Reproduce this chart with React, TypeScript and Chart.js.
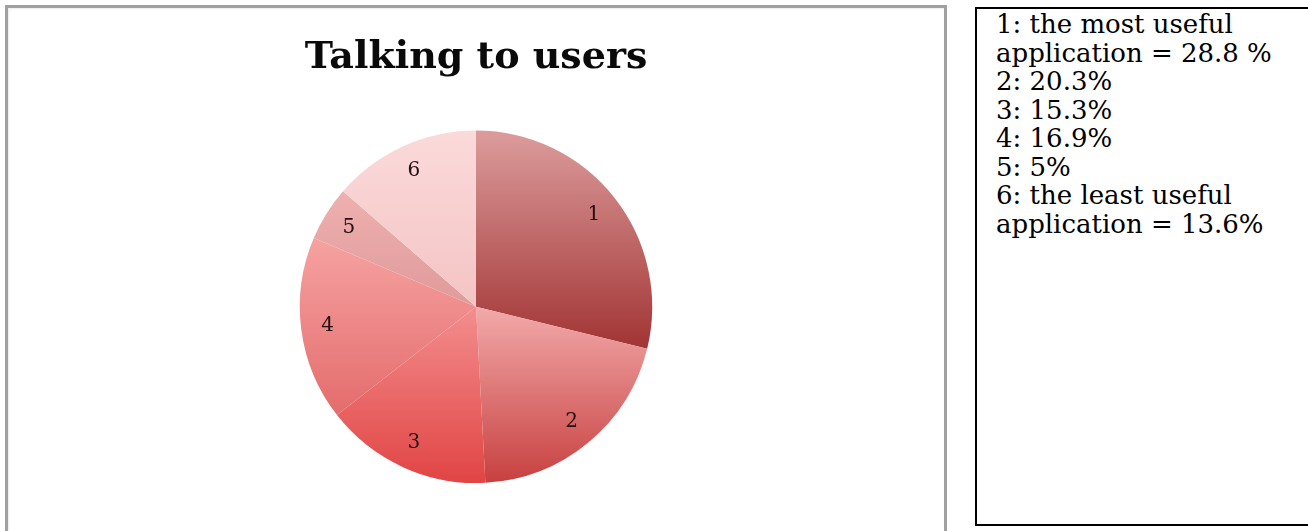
import React, { useEffect, useRef } from "react";
import { Chart, registerables } from "chart.js";

Chart.register(...registerables);

const categories = ["1", "2", "3", "4", "5", "6"];
const values = [28.8, 20.3, 15.3, 16.9, 5, 13.6];
const titleText = "Talking to users";
const noteLines = [
  "1: the most useful",
  "application = 28.8 %",
  "2: 20.3%",
  "3: 15.3%",
  "4: 16.9%",
  "5: 5%",
  "6: the least useful",
  "application = 13.6%",
];

const lightColors = ["#dc9c9c", "#f2aaaa", "#f38e8e", "#f6a2a2", "#eeb0b0", "#fbdada"];
const darkColors = ["#a23434", "#c84040", "#e14444", "#e46c6c", "#e09a9a", "#f4c4c4"];

function sliceGradient(ctx: any) {
  const i = ctx.dataIndex;
  const chart = ctx.chart;
  const area = chart.chartArea;
  if (!area || ctx.type !== "data") return lightColors[i];
  const cx = (area.left + area.right) / 2;
  const cy = (area.top + area.bottom) / 2;
  const r = Math.min(area.right - area.left, area.bottom - area.top) / 2;
  const total = values.reduce((a, b) => a + b, 0);
  let start = -Math.PI / 2;
  for (let k = 0; k < i; k++) start += (values[k] / total) * Math.PI * 2;
  const end = start + (values[i] / total) * Math.PI * 2;
  let minY = cy;
  let maxY = cy;
  for (let s = 0; s <= 60; s++) {
    const a = start + ((end - start) * s) / 60;
    const y = cy + r * Math.sin(a);
    minY = Math.min(minY, y);
    maxY = Math.max(maxY, y);
  }
  const g = chart.ctx.createLinearGradient(0, minY, 0, maxY);
  g.addColorStop(0, lightColors[i]);
  g.addColorStop(1, darkColors[i]);
  return g;
}

const sliceLabels = {
  id: "sliceLabels",
  afterDatasetsDraw(chart: any) {
    const meta = chart.getDatasetMeta(0);
    const c = chart.ctx;
    c.save();
    c.font = "20px 'DejaVu Serif', serif";
    c.fillStyle = "#241010";
    c.textAlign = "center";
    c.textBaseline = "middle";
    meta.data.forEach((el: any, i: number) => {
      const p = el.getProps(["x", "y", "startAngle", "endAngle", "outerRadius"], true);
      const mid = (p.startAngle + p.endAngle) / 2;
      const rr = p.outerRadius * 0.85;
      c.fillText(chart.data.labels[i], p.x + rr * Math.cos(mid), p.y + rr * Math.sin(mid));
    });
    c.restore();
  },
};

function PieChart() {
  const ref = useRef<HTMLCanvasElement>(null);
  useEffect(() => {
    if (!ref.current) return;
    const chart = new Chart(ref.current, {
      type: "pie",
      data: {
        labels: categories,
        datasets: [
          {
            data: values,
            backgroundColor: sliceGradient as any,
            borderWidth: 0,
          },
        ],
      },
      options: {
        responsive: false,
        animation: false,
        events: [],
        layout: { padding: { top: 0, bottom: 49, left: 0, right: 0 } },
        plugins: {
          legend: { display: false },
          tooltip: { enabled: false },
          title: {
            display: true,
            text: titleText,
            color: "#0a0a0a",
            font: { family: "'DejaVu Serif', serif", size: 38, weight: "bold", lineHeight: 1.2 },
            padding: { top: 27, bottom: 50 },
          },
        },
      },
      plugins: [sliceLabels],
    });
    return () => chart.destroy();
  }, []);
  return <canvas ref={ref} width={936} height={524} style={{ display: "block" }} />;
}

export default function App() {
  return (
    <div
      style={{
        position: "fixed",
        left: 0,
        top: 0,
        width: 1308,
        height: 531,
        overflow: "hidden",
        background: "#ffffff",
      }}
    >
      <div
        style={{
          position: "absolute",
          left: 5,
          top: 5,
          width: 936,
          height: 540,
          border: "3px solid #a0a0a0",
          boxShadow: "inset 1px 1px 2px rgba(0,0,0,0.08)",
        }}
      >
        <PieChart />
      </div>
      <div
        style={{
          position: "absolute",
          left: 975,
          top: 7,
          width: 360,
          height: 519,
          border: "2px solid #000000",
          boxSizing: "border-box",
          padding: "1px 0 0 19px",
          fontFamily: "'DejaVu Serif', serif",
          fontSize: 26,
          lineHeight: "28.5px",
          color: "#000000",
        }}
      >
        {noteLines.map((t, i) => (
          <div key={i} style={{ whiteSpace: "nowrap" }}>
            {t}
          </div>
        ))}
      </div>
    </div>
  );
}
